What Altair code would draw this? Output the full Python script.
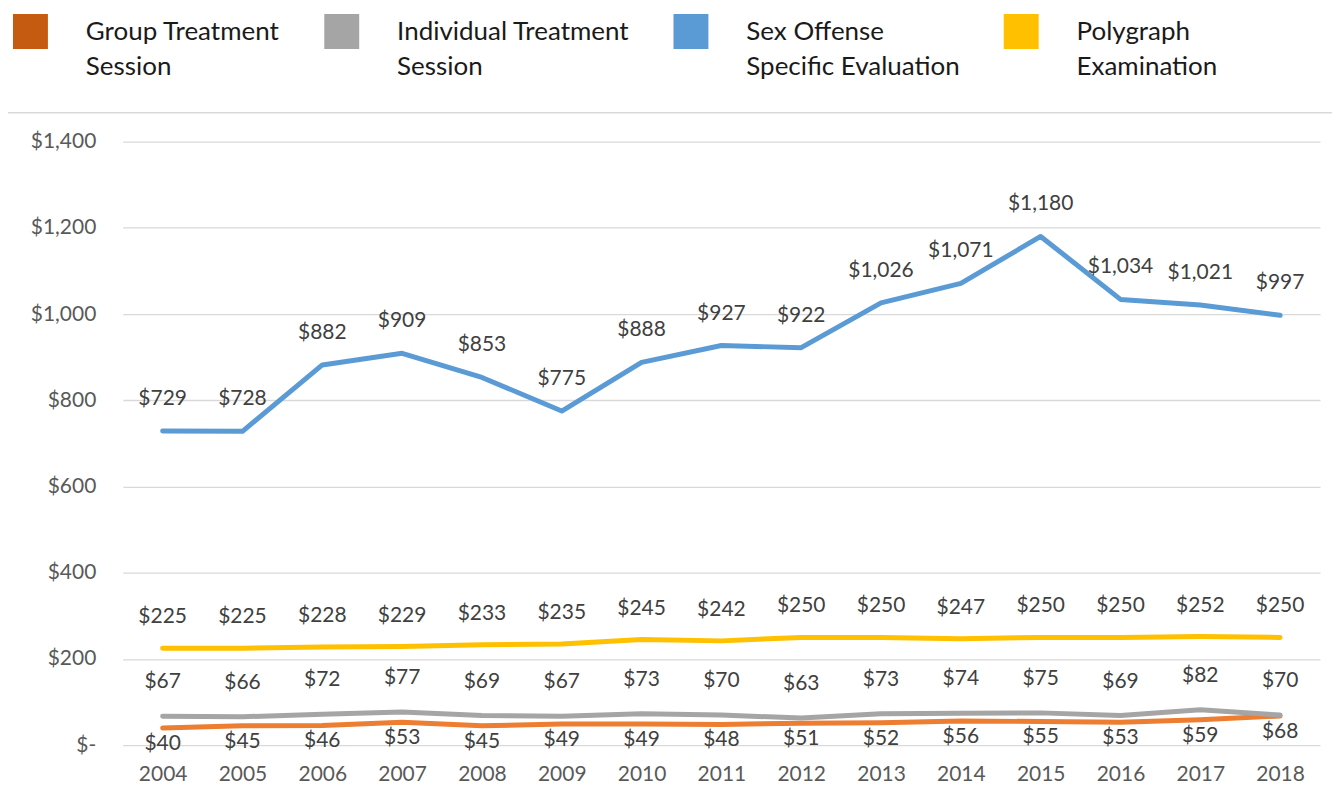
import altair as alt
import pandas as pd

years = [str(y) for y in range(2004, 2019)]
series_names = ["Group Treatment|Session", "Individual Treatment|Session",
                "Sex Offense|Specific Evaluation", "Polygraph|Examination"]
group = [40, 45, 46, 53, 45, 49, 49, 48, 51, 52, 56, 55, 53, 59, 68]
indiv = [67, 66, 72, 77, 69, 67, 73, 70, 63, 73, 74, 75, 69, 82, 70]
sexoff = [729, 728, 882, 909, 853, 775, 888, 927, 922, 1026, 1071, 1180, 1034, 1021, 997]
poly = [225, 225, 228, 229, 233, 235, 245, 242, 250, 250, 247, 250, 250, 252, 250]
line_colors = ["#ED7D31", "#A5A5A5", "#5B9BD5", "#FFC000"]
legend_colors = ["#C55A11", "#A5A5A5", "#5B9BD5", "#FFC000"]
label_dy = [16, -34, -32, -31]
y_ticks = [0, 200, 400, 600, 800, 1000, 1200, 1400]

rows = []
for name, vals in zip(series_names, [group, indiv, sexoff, poly]):
    for yr, v in zip(years, vals):
        rows.append({"year": yr, "series": name, "value": v})
df = pd.DataFrame(rows)

FONT = "Lato"
x_enc = alt.X("year:O", scale=alt.Scale(type="point", padding=0.5),
              axis=alt.Axis(title=None, labelAngle=0, ticks=False, domain=False,
                            labelPadding=18, labelFontSize=21, labelColor="#595959",
                            labelFont=FONT))
y_enc = alt.Y("value:Q", scale=alt.Scale(domain=[0, 1400], nice=False),
              axis=alt.Axis(title=None, values=y_ticks, ticks=False, domain=False,
                            labelPadding=27, labelFontSize=21, labelColor="#595959",
                            labelFont=FONT, gridColor="#D9D9D9", gridWidth=1.3,
                            labelExpr="datum.value == 0 ? '$-' : '$' + format(datum.value, ',')"))

base = alt.Chart(df)

lines = base.mark_line(strokeWidth=5, strokeCap="round", strokeJoin="round").encode(
    x=x_enc, y=y_enc,
    color=alt.Color("series:N", scale=alt.Scale(domain=series_names, range=line_colors), legend=None),
    order=alt.Order("year:O"),
)

legend_layer = base.mark_point(opacity=0, filled=True).encode(
    x=x_enc, y=y_enc,
    fill=alt.Fill("series:N", scale=alt.Scale(domain=series_names, range=legend_colors),
                  legend=alt.Legend(title=None, orient="none", direction="horizontal",
                                    legendX=-110, legendY=-128,
                                    symbolType="square",
                                    symbolSize=1225, symbolOpacity=1, symbolStrokeWidth=0,
                                    labelFont=FONT, labelFontSize=26, labelColor="#1a1a1a",
                                    labelLimit=400, labelOffset=38, columnPadding=44,
                                    labelExpr="split(datum.label, '|')")),
)

texts = []
for name, dy in zip(series_names, label_dy):
    texts.append(
        base.transform_filter(alt.datum.series == name).mark_text(
            dy=dy, fontSize=21, font=FONT, color="#404040"
        ).encode(x=x_enc, y=y_enc, text=alt.Text("value:Q", format="$,.0f"))
    )

frame = alt.Chart(alt.Data(values=[{"a": 1}])).mark_rect(
    fill=None, stroke="#D9D9D9", strokeWidth=1.5
).encode(x=alt.value(-116), x2=alt.value(1400), y=alt.value(-29), y2=alt.value(800))

chart = alt.layer(frame, lines, legend_layer, *texts).resolve_scale(
    color="independent", fill="independent"
).properties(
    width=1200, height=605,
    autosize=alt.AutoSizeParams(type="none"),
    padding={"left": 115, "top": 133, "right": 12, "bottom": 45},
).configure(
    style={"guide-label": {"lineHeight": 36}},
    view=alt.ViewConfig(stroke=None),
)

chart.save("out.html", embed_options={"renderer": "svg", "actions": False})
